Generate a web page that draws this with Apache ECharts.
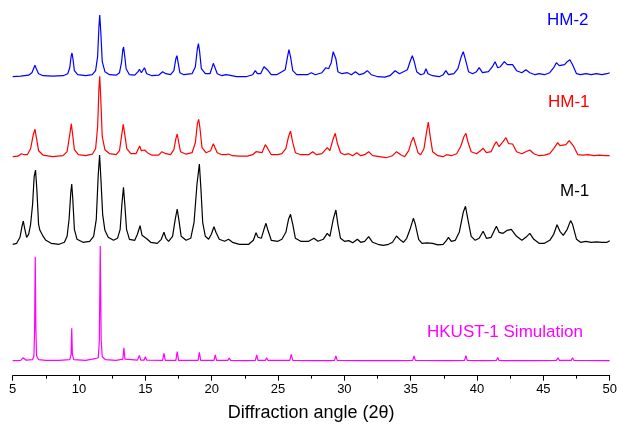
<!DOCTYPE html>
<html>
<head>
<meta charset="utf-8">
<title>XRD patterns</title>
<script src="https://cdn.jsdelivr.net/npm/echarts@6/dist/echarts.min.js"></script>
<style>
  html, body { margin: 0; padding: 0; background: #fff; }
  #chart { width: 617px; height: 432px; }
</style>
</head>
<body>
<div id="chart"></div>
<script>
// 2theta ticks
var xTicks = [5, 10, 15, 20, 25, 30, 35, 40, 45, 50];

// vertical offsets of each pattern (stacked, arbitrary units)
var offsets = [299, 219, 131.4, 15];
var names = ['HM-2', 'HM-1', 'M-1', 'HKUST-1 Simulation'];
var colors = ['#0000ff', '#ff0000', '#000000', '#ff00ff'];

// [2theta, intensity above baseline]
var hm2 = [[5.0,0],[5.6,0.5],[6.2,1.5],[6.45,4],[6.6,9],[6.68,11.4],[6.78,8],[6.95,3],[7.3,1],[8,0.5],[8.8,1],[9.15,3],[9.3,9],[9.4,20],[9.47,23.7],[9.55,17],[9.65,6],[9.9,2],[10.5,1],[11.0,2],[11.25,6],[11.4,20],[11.5,50],[11.56,61.7],[11.64,45],[11.75,15],[11.95,5],[12.3,2],[12.8,1.5],[13.05,4],[13.2,14],[13.3,27],[13.36,29.7],[13.45,20],[13.55,8],[13.8,2],[14.2,1.5],[14.45,5],[14.55,7.4],[14.7,4],[14.8,6],[14.93,9],[15.1,3],[15.5,1],[16.0,1.5],[16.3,5],[16.4,6.4],[16.55,3],[16.9,2],[17.15,6],[17.3,18],[17.38,21],[17.47,14],[17.6,4],[17.9,2],
    [18.52,3],[18.77,10],[18.92,28],[19.0,33],[19.09,25],[19.22,8],[19.52,3],[19.87,3],[20.02,9],[20.12,13.4],[20.22,10],[20.42,3],[20.77,1],[21.07,2],[21.17,3],[21.32,1.5],[21.87,0],[22.59,0],[23.09,2],[23.29,6],[23.44,3],[23.69,3],[23.94,10],[24.04,11],[24.19,7],[24.49,2],[24.89,2],[25.29,5],[25.54,7],[25.69,18],[25.82,27],[25.94,20],[26.11,6],[26.41,2],[26.91,2],[27.21,2],[27.51,4],[27.81,2],[28.31,4],[28.61,9],[28.81,8],[29.01,14],[29.16,25],[29.23,26],[29.36,18],[29.51,5],[29.81,3],
    [30.23,4],[30.53,2],[30.83,5],[31.13,2],[31.43,3],[31.73,6],[32.03,2],[32.53,0],[33.03,-0.5],[33.43,1],[33.83,6],[34.15,3],[34.45,5],[34.75,7],[34.95,15],[35.12,21],[35.25,16],[35.45,5],[35.75,2],[36.0,3],[36.15,8],[36.3,3],[36.65,1],[37.15,0],[37.45,2],[37.65,6],[37.85,2],[38.26,3],[38.56,8],[38.81,20],[38.96,25],[39.11,18],[39.36,5],[39.66,3],[39.96,5],
    [40.16,9],[40.41,4],[40.86,5],[41.16,10],[41.36,15],[41.56,9],[41.76,10],[42.06,15],[42.28,12],[42.68,12],[42.98,6],[43.38,4],[43.68,7],[43.98,4],[44.38,2],[44.68,3],[45.08,2],[45.48,4],[45.78,9],[45.98,14],[46.2,11],[46.3,10],[46.6,12],[46.8,15],[47.0,17],[47.2,12],[47.5,3],[47.8,2],[48.2,3],[48.6,2],[49.0,3],[49.4,2],[49.8,3],[50.0,4]];

var hm1 = [[5.0,0],[5.4,0.5],[5.65,3],[5.75,4.7],[5.9,2],[6.1,2],[6.35,8],[6.55,22],[6.68,27.4],[6.8,18],[6.95,6],[7.3,1.5],[8.0,0],[8.8,1],[9.1,5],[9.3,22],[9.42,33],[9.52,22],[9.65,7],[9.95,2],[10.5,1],[11.0,2.5],[11.25,8],[11.4,30],[11.5,68],[11.56,80.4],[11.64,58],[11.75,20],[11.95,7],[12.3,3],[12.8,2],[13.05,6],[13.2,20],[13.33,32.4],[13.45,22],[13.6,8],[13.9,3],[14.3,3],[14.47,8],[14.57,10.7],[14.7,6],[14.85,6],[14.95,6.7],[15.15,4],[15.5,1.5],[16.0,1.5],[16.25,5],[16.4,6.7],[16.55,3],[16.9,2],[17.15,7],[17.3,18],[17.4,22.7],[17.5,15],[17.65,5],
    [18.07,2.5],[18.52,4],[18.77,14],[18.92,33],[19.02,37.4],[19.12,28],[19.27,9],[19.57,4],[19.92,6],[20.12,13],[20.22,12],[20.42,4],[20.77,2],[21.07,2],[21.27,2.7],[21.57,1],[22.09,0.5],[22.69,0.5],[23.09,2],[23.34,5],[23.49,3],[23.79,4],[24.04,12],[24.19,9],[24.49,2],[24.99,2],[25.29,3],[25.59,8],[25.79,20],[25.94,25.7],[26.11,14],[26.31,4],[26.71,2],[27.31,2],[27.61,5],[27.91,2],[28.31,3],[28.71,9],[28.91,6],[29.16,18],[29.31,23.4],[29.46,14],[29.71,4],[30.01,2],
    [30.33,3],[30.63,1],[30.93,4],[31.23,1],[31.53,2],[31.83,5],[32.13,1],[32.63,0],[33.13,-1],[33.63,1],[33.93,5],[34.25,2],[34.55,0],[34.85,6],[35.05,15],[35.2,19.4],[35.35,13],[35.55,4],[35.75,2],[36.0,8],[36.2,25],[36.33,34.7],[36.45,22],[36.65,5],[37.05,1],[37.45,0],[37.7,2],[37.85,3.3],[38.06,1],[38.46,3],[38.76,10],[39.01,20],[39.16,23.4],[39.31,15],[39.56,5],[39.96,3],
    [40.26,6],[40.46,8.4],[40.71,4],[41.06,5],[41.31,12],[41.46,15],[41.66,10],[41.96,15],[42.18,19],[42.38,13],[42.68,12.7],[42.98,5],[43.38,3],[43.68,5],[43.98,6.7],[44.28,3],[44.68,1],[45.08,1.5],[45.48,3],[45.78,8],[46.08,14],[46.25,11],[46.4,10],[46.7,12],[46.95,16],[47.1,16.7],[47.3,10],[47.6,2],[48.0,1.5],[48.4,2],[48.8,1],[49.2,1.5],[49.7,1],[50.0,1]];

var m1 = [[5.0,0],[5.3,1],[5.55,7],[5.7,18],[5.8,23.3],[5.9,16],[6.05,7],[6.2,10],[6.35,20],[6.5,40],[6.62,68],[6.72,74.3],[6.82,55],[6.95,20],[7.05,14],[7.25,9],[7.5,4],[7.9,1],[8.5,0],[8.9,2],[9.1,8],[9.25,25],[9.38,52],[9.45,60.3],[9.53,45],[9.65,15],[9.85,5],[10.3,2],[10.8,3],[11.1,8],[11.3,25],[11.45,70],[11.55,89.3],[11.65,65],[11.78,30],[11.95,14],[12.2,7],[12.6,4],[12.9,6],[13.1,15],[13.23,40],[13.35,57],[13.45,40],[13.58,15],[13.8,5],[14.2,4],[14.4,10],[14.6,18.6],[14.75,9],[14.95,7],[15.15,5],[15.4,2],[15.9,1],[16.2,5],[16.4,12],[16.55,6],[16.75,3],[17.05,8],[17.25,25],[17.4,35.3],[17.52,25],[17.7,8],
    [18.07,4],[18.42,6],[18.67,22],[18.89,60],[19.07,80.3],[19.19,55],[19.32,22],[19.52,8],[19.77,5],[19.97,10],[20.17,17.6],[20.32,12],[20.57,5],[20.97,3],[21.27,5],[21.57,2],[22.09,0],[22.79,0],[23.14,4],[23.34,11.6],[23.49,7],[23.74,6],[23.94,15],[24.09,21],[24.24,14],[24.49,4],[24.99,3],[25.29,5],[25.59,12],[25.79,25],[25.94,30],[26.11,20],[26.31,6],[26.71,3],[27.31,3],[27.71,6],[28.01,3],[28.41,5],[28.71,11],[28.91,8],[29.16,25],[29.36,34.3],[29.51,20],[29.71,6],[30.01,3],
    [30.33,3.7],[30.63,1.5],[30.98,5],[31.23,2],[31.53,3],[31.83,7.7],[32.13,2],[32.53,0],[32.93,-1],[33.33,0],[33.63,2],[33.93,8.3],[34.25,4],[34.45,2],[34.7,6],[34.95,15],[35.2,26],[35.35,20],[35.6,5],[35.85,1],[36.25,1.5],[36.65,1],[37.05,-0.5],[37.45,0],[37.7,4],[37.85,7],[38.06,3],[38.36,4],[38.66,12],[38.96,32],[39.13,38],[39.31,25],[39.56,8],[39.86,4],
    [40.16,6],[40.46,13],[40.71,6],[41.06,7],[41.31,14],[41.46,18],[41.66,12],[41.96,11],[42.28,14],[42.58,15],[42.73,16],[42.98,8],[43.38,4],[43.68,7],[43.98,11],[44.28,5],[44.68,1],[45.08,1],[45.48,4],[45.78,10],[46.03,19.6],[46.25,13],[46.5,9],[46.8,15],[47.05,23.7],[47.2,20],[47.5,5],[47.8,2],[48.2,3],[48.6,2],[49.0,2.5],[49.4,2],[49.8,2],[50.0,3.5]];

var sim = [[5.0,0],[5.6,0.3],[5.8,3],[6.0,0.5],[6.5,1],[6.6,5],[6.65,30],[6.7,104],[6.75,30],[6.8,5],[6.95,1],[7.5,0.3],[8.5,0.3],[9.3,1],[9.4,6],[9.45,32.4],[9.5,6],[9.6,1],[10.5,0.3],[11.0,1.5],[11.1,3],[11.2,2],[11.45,3],[11.53,20],[11.6,114.7],[11.67,20],[11.75,4],[12.0,1],[12.8,0.3],[13.3,1.5],[13.38,13],[13.46,1.5],[14.4,0.5],[14.55,5.3],[14.65,0.5],[14.9,0.5],[15.0,4],[15.1,0.5],[16.3,0.3],[16.4,7.4],[16.5,0.3],[17.3,0.3],[17.4,9],[17.5,0.3],
    [18.97,0.3],[19.07,8.4],[19.17,0.3],[20.17,0.3],[20.27,5.7],[20.37,0.3],[21.22,0.3],[21.32,2.7],[21.42,0.3],[22.44,0],[22.54,1],[22.64,0],[23.29,0.3],[23.39,5.7],[23.49,0.3],[24.04,0.3],[24.14,3],[24.24,0.3],[25.89,0.3],[25.99,6.4],[26.11,0.3],[27.61,0],[27.71,2],[27.81,0],[28.71,0],[28.81,2],[28.91,0],[29.26,0.3],[29.36,4.7],[29.46,0.3],
    [31.03,0],[31.13,1],[31.23,0],[31.78,0],[31.88,1.5],[31.98,0],[33.93,0],[34.05,1.5],[34.15,0],[35.15,0.3],[35.25,4.7],[35.35,0.3],[37.8,0],[37.9,1.5],[38.0,0],[39.06,0.3],[39.16,5],[39.26,0.3],
    [40.36,0],[40.46,1],[40.56,0],[41.46,0.3],[41.56,3.3],[41.66,0.3],[42.06,0],[42.18,2],[42.28,0],[42.63,0],[42.73,1.5],[42.83,0],[43.98,0],[44.08,0.7],[44.18,0],[45.98,0.3],[46.1,3],[46.2,0.3],[47.1,0.3],[47.2,3],[47.3,0.3],[50.0,0]];

var patterns = [hm2, hm1, m1, sim];

var chart = echarts.init(document.getElementById('chart'));

var series = patterns.map(function (p, i) {
    return {
        name: names[i],
        type: 'line',
        showSymbol: false,
        lineStyle: { color: colors[i], width: 1.2 },
        data: p.map(function (d) { return [d[0], d[1] + offsets[i]]; })
    };
});

chart.setOption({
    animation: false,
    grid: { left: 12.7, right: 7.3, top: 0, bottom: 56.3, outerBoundsMode: 'none', containLabel: false },
    xAxis: {
        type: 'value',
        min: 5,
        max: 50,
        interval: 5,
        name: 'Diffraction angle (2θ)',
        nameLocation: 'middle',
        nameGap: 28,
        nameTextStyle: { fontFamily: 'Liberation Sans', fontSize: 18, color: '#000' },
        axisLine: { lineStyle: { color: '#000', width: 1 } },
        axisTick: { inside: false, length: 5, lineStyle: { color: '#000' } },
        minorTick: { show: true, splitNumber: 2, length: 3, lineStyle: { color: '#000' } },
        splitLine: { show: false },
        axisLabel: {
            fontFamily: 'Liberation Sans', fontSize: 13, color: '#000', margin: 7,
            formatter: function (v) { return xTicks.indexOf(v) >= 0 ? String(v) : ''; }
        }
    },
    yAxis: { type: 'value', min: 0, max: 375.7, show: false },
    graphic: [
        { type: 'text', left: 547, top: 12, style: { text: names[0], fill: colors[0], font: '17px "Liberation Sans"' } },
        { type: 'text', left: 548, top: 94, style: { text: names[1], fill: colors[1], font: '17px "Liberation Sans"' } },
        { type: 'text', left: 560, top: 183, style: { text: names[2], fill: colors[2], font: '17px "Liberation Sans"' } },
        { type: 'text', left: 427, top: 324, style: { text: names[3], fill: colors[3], font: '17px "Liberation Sans"' } }
    ],
    series: series
});
</script>
</body>
</html>
